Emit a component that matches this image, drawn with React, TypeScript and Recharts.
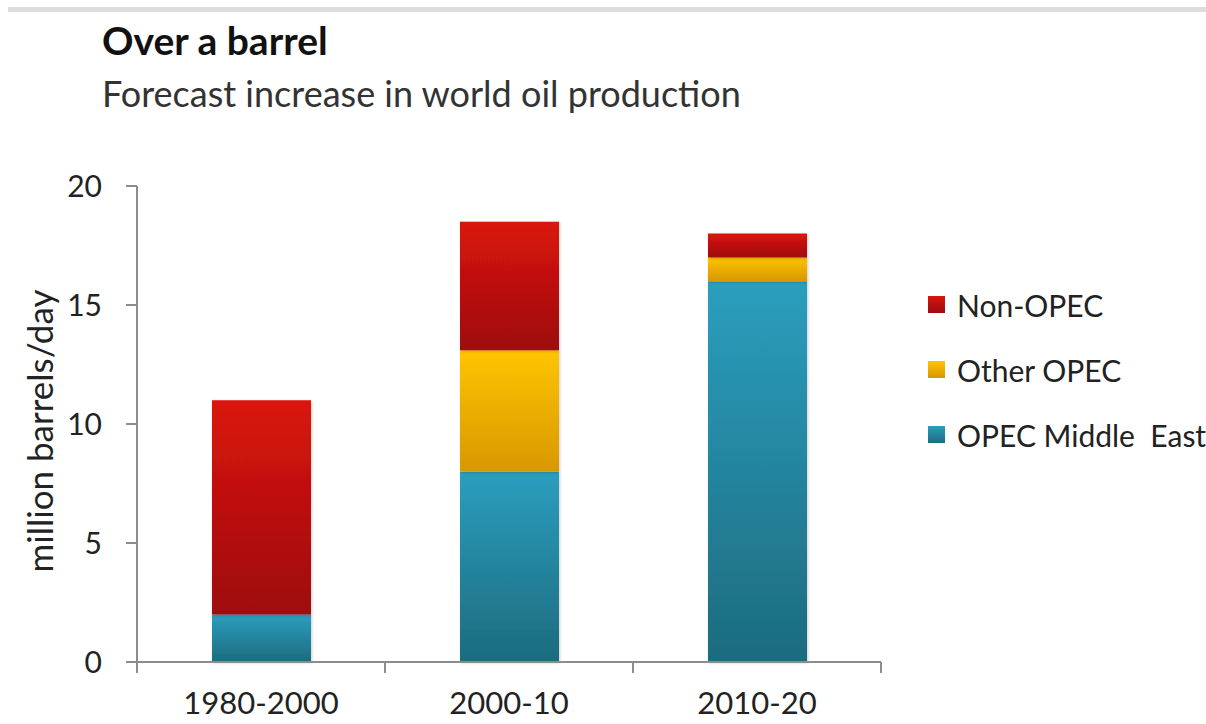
import React from 'react'
import { BarChart, Bar, XAxis, YAxis, Legend } from 'recharts'

const categories = ['1980-2000', '2000-10', '2010-20']
const opecMiddleEast = [2, 8, 16]
const otherOpec = [0, 5.1, 1]
const nonOpec = [9, 5.4, 1]
const yTicks = [0, 5, 10, 15, 20]

const series = [
  { key: 'me', name: 'OPEC Middle  East', top: '#2b9ebe', bottom: '#1d6b7e' },
  { key: 'other', name: 'Other OPEC', top: '#ffc400', bottom: '#d89800' },
  { key: 'non', name: 'Non-OPEC', top: '#da150f', bottom: '#9e0a0f' },
]

const data = categories.map((period, i) => ({
  period,
  me: opecMiddleEast[i],
  other: otherOpec[i],
  non: nonOpec[i],
}))

const font = 'Lato, "Open Sans", sans-serif'
const axisColor = '#8c8c8c'
const X_TICK_SIZE = 6
const X_TICK_MARGIN = 24

// category label plus tick marks on the band edges, like Excel's "between categories"
const CategoryTick = ({ x, y, payload, index, visibleTicksCount }: any) => {
  const axisY = y - X_TICK_SIZE - X_TICK_MARGIN
  const half = payload.offset || 0
  const last = (visibleTicksCount ?? categories.length) - 1
  return (
    <g>
      <line x1={x - half} x2={x - half} y1={axisY} y2={axisY + 11} stroke={axisColor} strokeWidth={2} />
      {index === last && (
        <line x1={x + half} x2={x + half} y1={axisY} y2={axisY + 11} stroke={axisColor} strokeWidth={2} />
      )}
      <text x={x} y={y} dy="0.71em" textAnchor="middle" fontSize={31} fill="#222" fontFamily={font}>
        {payload.value}
      </text>
    </g>
  )
}

const LegendBox = () => (
  <div style={{ fontFamily: font }}>
    {[...series].reverse().map((s) => (
      <div key={s.key} style={{ display: 'flex', alignItems: 'center', height: 65 }}>
        <span
          style={{
            width: 17,
            height: 17,
            marginRight: 12,
            background: `linear-gradient(${s.top}, ${s.bottom})`,
          }}
        />
        <span style={{ fontSize: 30, color: '#222', whiteSpace: 'pre' }}>{s.name}</span>
      </div>
    ))}
  </div>
)

const YLabel = ({ viewBox }: any) => {
  const cx = 39
  const cy = viewBox.y + viewBox.height / 2 + 7
  return (
    <text
      x={cx}
      y={cy}
      transform={`rotate(-90 ${cx} ${cy})`}
      textAnchor="middle"
      dominantBaseline="central"
      fontSize={35}
      fill="#222"
      fontFamily={font}
    >
      million barrels/day
    </text>
  )
}

export default function App() {
  return (
    <div style={{ position: 'absolute', left: 0, top: 0, width: 1206, height: 724, background: '#fff', overflow: 'hidden' }}>
      <div style={{ position: 'absolute', left: 8, right: 0, top: 7, height: 5, background: '#dcdcdc' }} />
      <div style={{ position: 'absolute', left: 102, top: 17, fontFamily: font, fontWeight: 700, fontSize: 39, color: '#111', lineHeight: 1.2 }}>
        Over a barrel
      </div>
      <div style={{ position: 'absolute', left: 102, top: 72, fontFamily: font, fontSize: 36, color: '#333', lineHeight: 1.2 }}>
        Forecast increase in world oil production
      </div>
      <div style={{ position: 'absolute', left: 0, top: 0 }}>
        <BarChart width={1206} height={724} data={data} margin={{ top: 186, right: 45, bottom: 0, left: 0 }}>
          <defs>
            {series.map((s) => (
              <linearGradient key={s.key} id={`grad-${s.key}`} x1="0" y1="0" x2="0" y2="1">
                <stop offset="0%" stopColor={s.top} />
                <stop offset="100%" stopColor={s.bottom} />
              </linearGradient>
            ))}
            <filter id="barShadow" x="-10%" y="-10%" width="130%" height="130%">
              <feDropShadow dx="1" dy="1" stdDeviation="1.5" floodColor="#000" floodOpacity="0.2" />
            </filter>
          </defs>
          <XAxis
            dataKey="period"
            height={62}
            interval={0}
            axisLine={{ stroke: axisColor, strokeWidth: 2 }}
            tickLine={false}
            tickSize={X_TICK_SIZE}
            tickMargin={X_TICK_MARGIN}
            tick={<CategoryTick />}
          />
          <YAxis
            width={137}
            domain={[0, 20]}
            ticks={yTicks}
            axisLine={{ stroke: axisColor, strokeWidth: 2 }}
            tickLine={{ stroke: axisColor, strokeWidth: 2 }}
            tickSize={11}
            tickMargin={24}
            tick={{ fontSize: 30, fill: '#222', fontFamily: font }}
            label={{ content: YLabel }}
          />
          <Legend
            layout="vertical"
            align="right"
            verticalAlign="middle"
            width={280}
            content={<LegendBox />}
            wrapperStyle={{ left: 928, top: 272, width: 280 }}
          />
          {series.map((s) => (
            <Bar
              key={s.key}
              dataKey={s.key}
              name={s.name}
              stackId="oil"
              barSize={99}
              fill={`url(#grad-${s.key})`}
              filter="url(#barShadow)"
              isAnimationActive={false}
            />
          ))}
        </BarChart>
      </div>
    </div>
  )
}
